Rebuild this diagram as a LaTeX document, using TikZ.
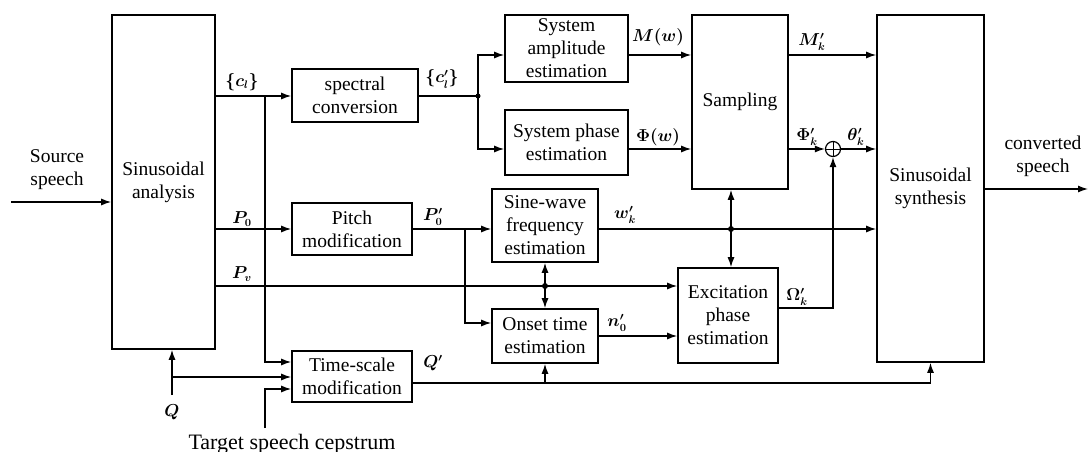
\documentclass[tikz,border=0pt]{standalone}
\usepackage{fontspec}
\IfFontExistsTF{LiberationSerif-Regular.ttf}
  {\setmainfont{LiberationSerif-Regular.ttf}[ItalicFont=LiberationSerif-Italic.ttf,BoldFont=LiberationSerif-Bold.ttf]}
  {\setmainfont{Liberation Serif}}
\usetikzlibrary{arrows.meta}
\begin{document}
\begin{tikzpicture}[x=1pt,y=-1pt,
  box/.style={draw, line width=1.6pt, inner sep=0pt, align=center, font=\rmfamily\fontsize{19.5}{23}\selectfont},
  txt/.style={align=center, inner sep=0pt, font=\rmfamily\fontsize{19.5}{23}\selectfont},
  lab/.style={inner sep=0pt, font=\fontsize{16}{18}\selectfont\boldmath},
  conn/.style={line width=1.3pt},
  arr/.style={conn, -{Latex[length=10pt,width=7pt]}},
  dot/.style={circle, fill, inner sep=0pt, minimum size=6pt}]
\useasboundingbox (0,0) rectangle (1088,452);

% boxes
\node[box, minimum width=103pt, minimum height=334pt] (ana) at (163.5,182) {Sinusoidal\\analysis};
\node[box, minimum width=126pt, minimum height=53pt] (spec) at (355,95.5) {spectral\\conversion};
\node[box, minimum width=123pt, minimum height=67pt] (amp) at (566.5,48.5) {System\\amplitude\\estimation};
\node[box, minimum width=123pt, minimum height=65pt] (pha) at (566.5,142.5) {System phase\\estimation};
\node[box, minimum width=96pt, minimum height=174pt] (samp) at (740,102) {Sampling};
\node[box, minimum width=107pt, minimum height=347pt] (syn) at (930.5,188.5) {Sinusoidal\\synthesis};
\node[box, minimum width=120pt, minimum height=52pt] (pitch) at (352,229) {Pitch\\modification};
\node[box, minimum width=106pt, minimum height=73pt] (sine) at (545,225.5) {Sine-wave\\frequency\\estimation};
\node[box, minimum width=106pt, minimum height=54pt] (onset) at (545,336) {Onset time\\estimation};
\node[box, minimum width=100pt, minimum height=95pt] (exc) at (728,315.5) {Excitation\\phase\\estimation};
\node[box, minimum width=120pt, minimum height=51pt] (ts) at (352,376.5) {Time-scale\\modification};
\node[circle, draw, line width=1.2pt, minimum size=15pt, inner sep=0pt] (plus) at (833,149) {};
\draw[line width=1pt] (plus.north) -- (plus.south) (plus.west) -- (plus.east);

% free texts
\node[txt] (srct) at (57,170) {Source\\speech};
\node[txt] (cvt) at (1043,156) {converted\\speech};
\node[inner sep=0pt, anchor=base, font=\rmfamily\fontsize{22}{24}\selectfont] (tgtt) at (292,449) {Target speech cepstrum};

% coordinates
\coordinate (src) at (11,202);
\coordinate (jc) at (265,96);
\coordinate (jc2) at (478,96);
\coordinate (jp) at (465,229);
\coordinate (jv) at (545,286);
\coordinate (jw) at (731,229);
\coordinate (jq) at (172,377);
\coordinate (qin) at (172,395);
\coordinate (tgt) at (265,428);
\coordinate (jq2) at (545,383);
\coordinate (out) at (1088,189);

% connectors
\draw[arr] (src) -- (ana.west |- src);
\draw[arr] (ana.east |- jc) -- (spec.west |- jc);
\draw[arr] (jc) |- (ts.west |- 0,362);
\draw[conn] (spec.east |- jc2) -- (jc2);
\draw[arr] (jc2) |- (amp.west |- 0,55);
\draw[arr] (jc2) |- (pha.west |- 0,149);
\node[dot, minimum size=5pt] at (jc2) {};
\draw[arr] (amp.east |- 0,55) -- (samp.west |- 0,55);
\draw[arr] (pha.east |- 0,149) -- (samp.west |- 0,149);
\draw[arr] (samp.east |- 0,55) -- (syn.west |- 0,55);
\draw[arr] (samp.east |- plus) -- (plus.west);
\draw[arr] (plus.east) -- (syn.west |- plus);
\draw[arr] (ana.east |- jp) -- (pitch.west |- jp);
\draw[arr] (pitch.east |- jp) -- (sine.west |- jp);
\draw[arr] (jp) |- (onset.west |- 0,323);
\draw[arr] (ana.east |- jv) -- (exc.west |- jv);
\draw[arr] (jv) -- (sine.south);
\draw[arr] (jv) -- (onset.north);
\node[dot] at (jv) {};
\draw[arr] (sine.east |- jw) -- (syn.west |- jw);
\draw[arr] (jw) -- (jw |- samp.south);
\draw[arr] (jw) -- (jw |- exc.north);
\node[dot] at (jw) {};
\draw[arr] (onset.east |- 0,336) -- (exc.west |- 0,336);
\draw[arr] (exc.east |- 0,308) -| (plus.south);
\draw[arr] (qin) -- (qin |- ana.south);
\draw[arr] (jq) -- (ts.west |- jq);
\draw[arr] (tgt) |- (ts.west |- 0,389);
\draw[arr] (ts.east |- jq2) -| (syn.south);
\draw[arr] (jq2) -- (onset.south);
\draw[arr] (syn.east |- out) -- (out);

% labels
\node[lab] (lc) at (242,82) {$\{c_l\}$};
\node[lab] (lcp) at (442,79) {$\{c'_l\}$};
\node[lab] (lm) at (658,37) {$M(w)$};
\node[lab] (lphi) at (658,137) {$\Phi(w)$};
\node[lab] (lmk) at (812,42) {$M'_k$};
\node[lab] (lphik) at (807,137) {$\Phi'_k$};
\node[lab] (lth) at (856,137) {$\theta'_k$};
\node[lab] (lp0) at (242,219) {$P_0$};
\node[lab] (lp0p) at (433,217) {$P'_0$};
\node[lab] (lpv) at (242,274) {$P_v$};
\node[lab] (lwk) at (625,215) {$w'_k$};
\node[lab] (ln0) at (617,323) {$n'_0$};
\node[lab] (lom) at (797,297) {$\Omega'_k$};
\node[lab] (lq) at (172,412) {$Q$};
\node[lab] (lqp) at (433,363) {$Q'$};
\end{tikzpicture}
\end{document}
